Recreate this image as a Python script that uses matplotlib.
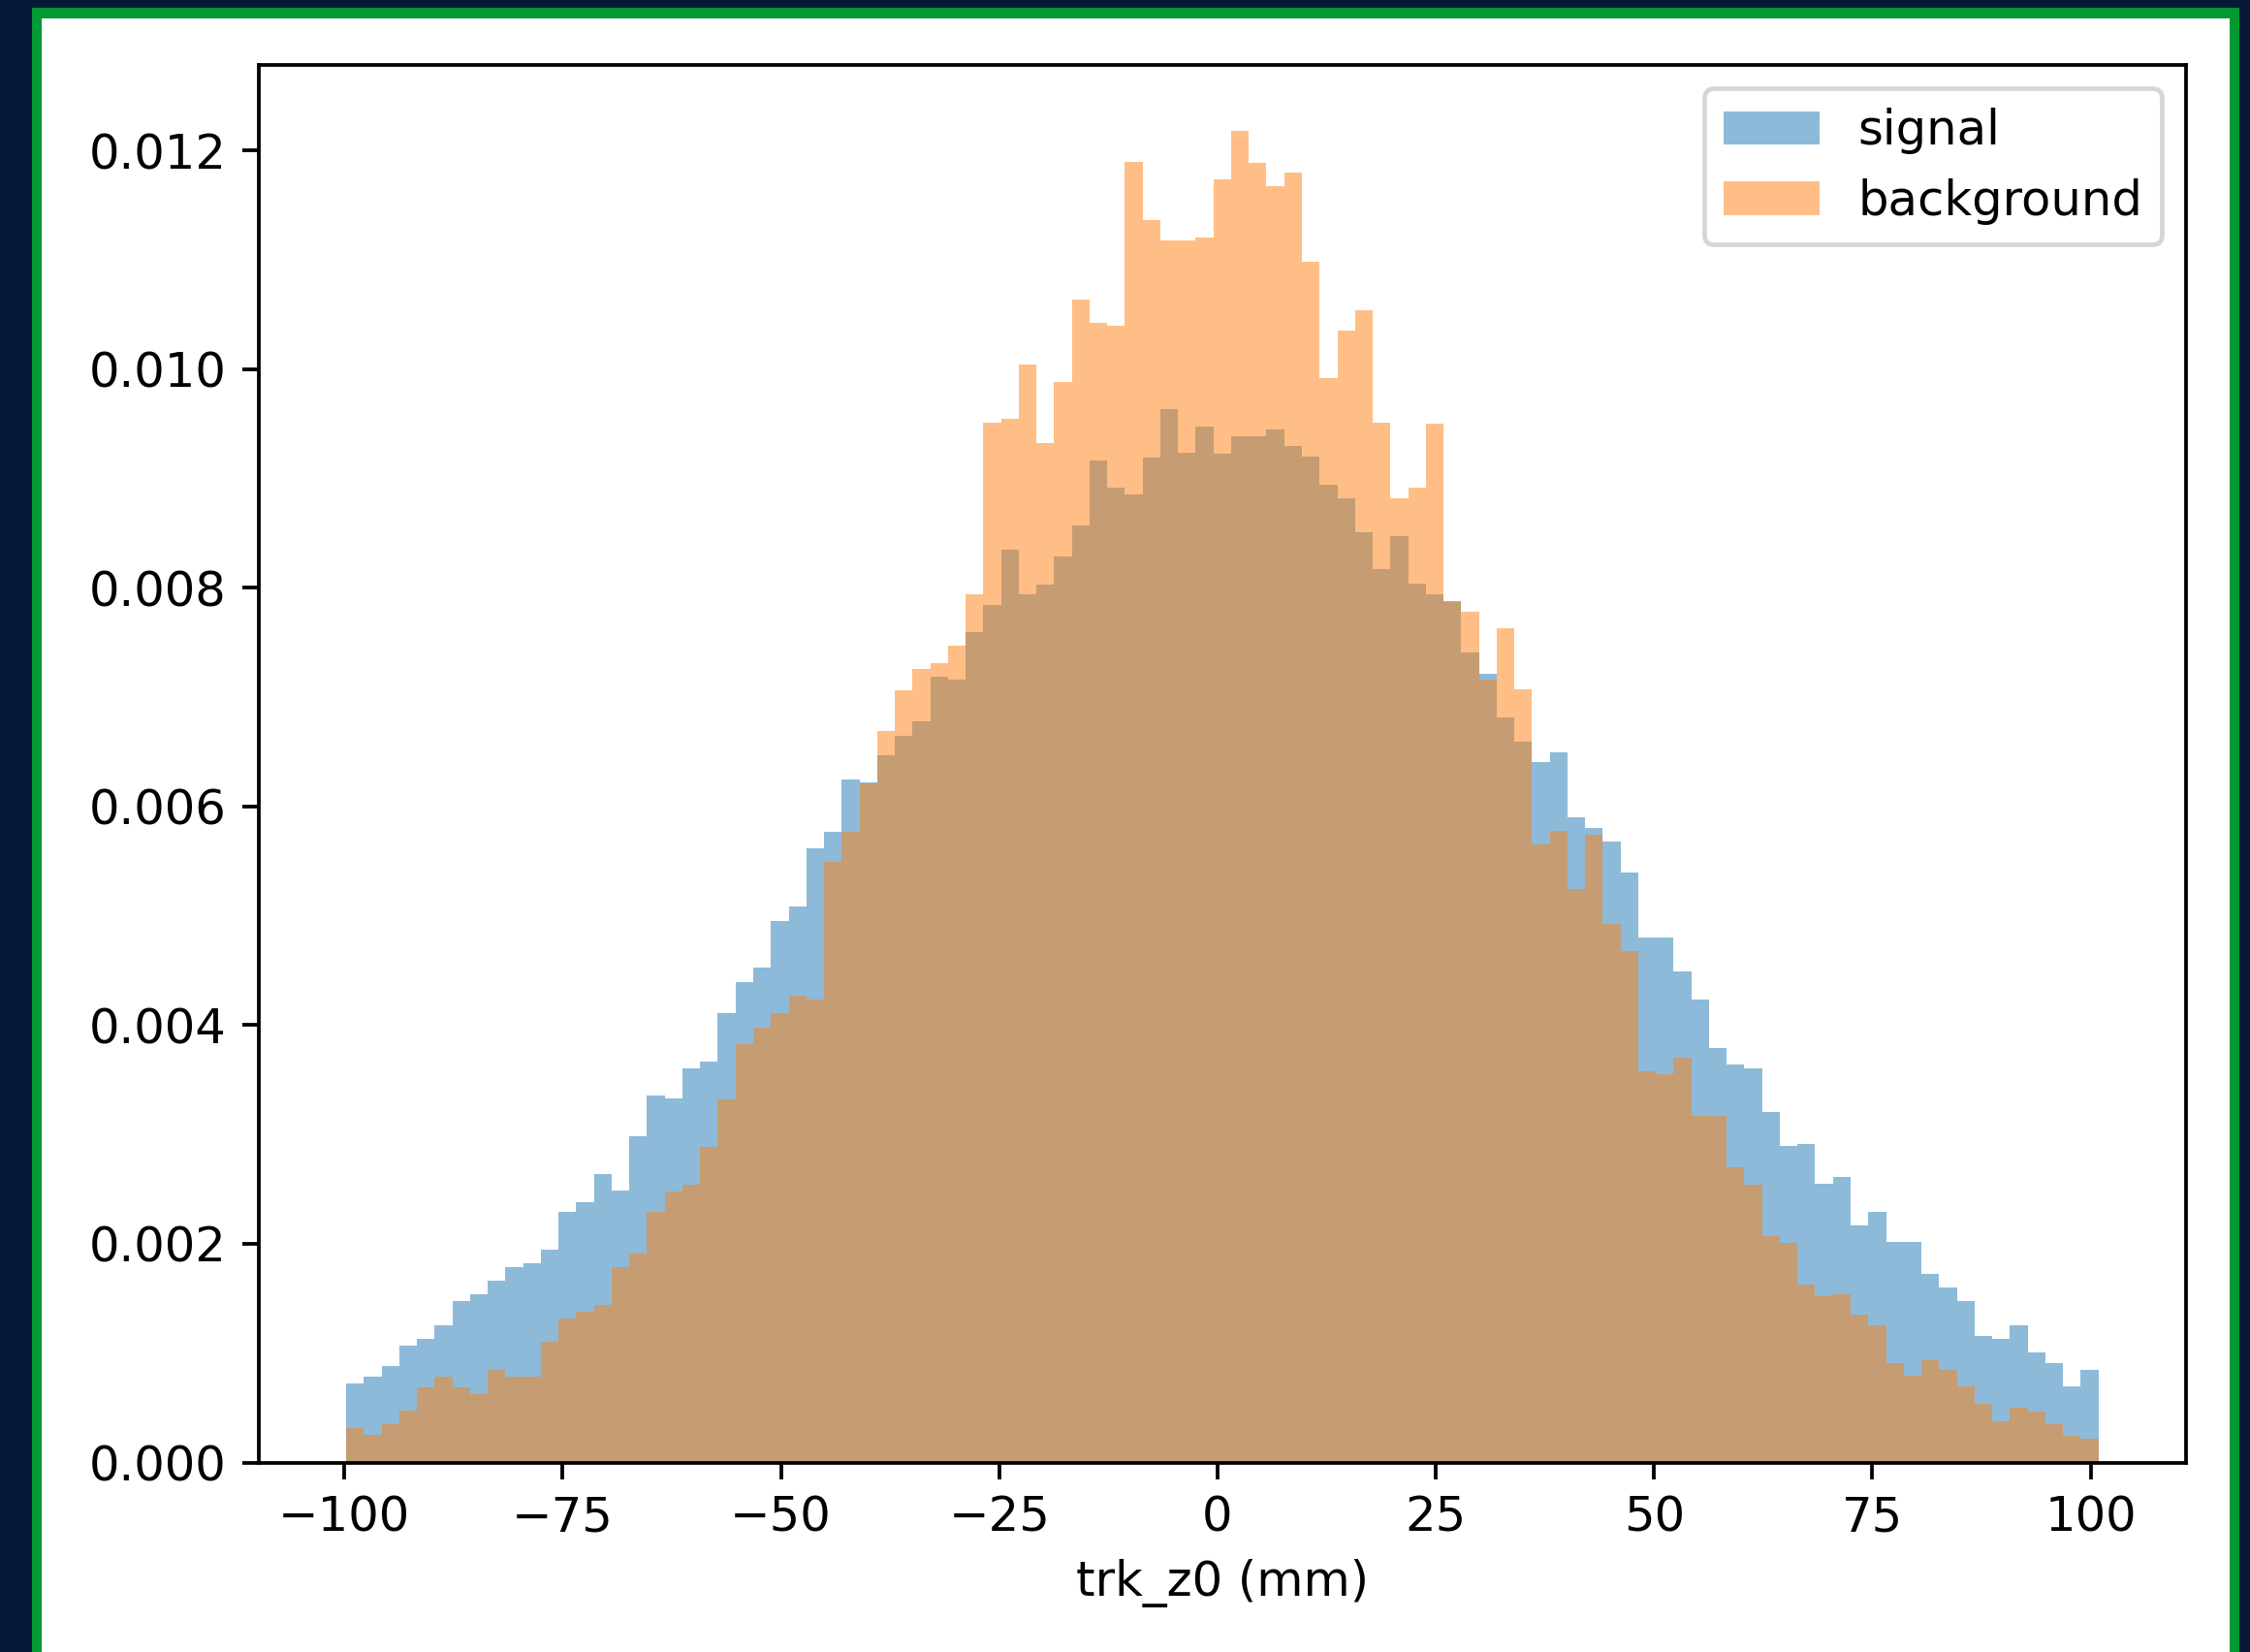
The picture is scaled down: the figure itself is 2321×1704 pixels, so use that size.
import numpy as np
import matplotlib
matplotlib.use("Agg")
import matplotlib.pyplot as plt
from matplotlib.patches import Rectangle

# Histogram bin range (99 bins) and densities (in units of 1e-3)
bin_lo = -99.8
bin_hi = 100.9
n_bins = 99

signal = [
    0.719, 0.784, 0.878, 1.070, 1.129, 1.256, 1.474, 1.536, 1.666, 1.787,
    1.823, 1.946, 2.289, 2.383, 2.637, 2.484, 2.983, 3.358, 3.328, 3.608,
    3.670, 4.113, 4.391, 4.523, 4.954, 5.084, 5.615, 5.772, 6.244, 6.220,
    6.466, 6.650, 6.780, 7.190, 7.161, 7.598, 7.844, 8.347, 7.944, 8.030,
    8.287, 8.566, 9.163, 8.920, 8.853, 9.193, 9.636, 9.237, 9.478, 9.230,
    9.386, 9.386, 9.447, 9.295, 9.198, 8.945, 8.818, 8.507, 8.168, 8.475,
    8.038, 7.940, 7.880, 7.409, 7.217, 6.811, 6.596, 6.403, 6.498, 5.905,
    5.806, 5.681, 5.396, 4.803, 4.803, 4.495, 4.234, 3.793, 3.641, 3.607,
    3.202, 2.895, 2.917, 2.552, 2.608, 2.171, 2.289, 2.015, 2.015, 1.722,
    1.601, 1.477, 1.161, 1.132, 1.256, 1.005, 0.908, 0.695, 0.843,
]

background = [
    0.312, 0.252, 0.347, 0.471, 0.689, 0.784, 0.689, 0.627, 0.843, 0.784,
    0.784, 1.100, 1.315, 1.380, 1.442, 1.787, 1.912, 2.289, 2.478, 2.543,
    2.885, 3.322, 3.824, 3.980, 4.110, 4.267, 4.237, 5.489, 5.772, 6.210,
    6.687, 7.062, 7.255, 7.312, 7.468, 7.937, 9.510, 9.547, 10.043, 9.323,
    9.882, 10.638, 10.422, 10.396, 11.895, 11.362, 11.175, 11.175, 11.208, 11.737,
    12.176, 11.890, 11.673, 11.797, 10.983, 9.917, 10.354, 10.542, 9.512, 8.818,
    8.916, 9.505, 7.870, 7.785, 7.163, 7.626, 7.068, 5.651, 5.776, 5.244,
    5.742, 4.929, 4.675, 3.580, 3.549, 3.702, 3.174, 3.174, 2.700, 2.540,
    2.068, 2.005, 1.630, 1.522, 1.536, 1.350, 1.256, 0.908, 0.790, 0.937,
    0.848, 0.695, 0.533, 0.379, 0.497, 0.468, 0.347, 0.247, 0.217,
]

series_labels = ["signal", "background"]
x_label = "trk_z0 (mm)"

plt.rcParams["font.size"] = 10.5

W, H, DPI = 2321, 1704, 340
fig = plt.figure(figsize=(W / DPI, H / DPI), dpi=DPI)
fig.patch.set_facecolor("#061a38")

# Screenshot frame: green line and white inner area
fig.add_artist(Rectangle((33 / W, 0), (2310 - 33) / W, (H - 8) / H,
                         transform=fig.transFigure, facecolor="#009933",
                         edgecolor="none", zorder=-20))
fig.add_artist(Rectangle((43 / W, 0), (2300 - 43) / W, (H - 19) / H,
                         transform=fig.transFigure, facecolor="white",
                         edgecolor="none", zorder=-19))

ax = fig.add_axes([266.7 / W, (H - 1508.5) / H,
                   (2255 - 266.7) / W, (1508.5 - 66.7) / H])

edges = np.linspace(bin_lo, bin_hi, n_bins + 1)
centers = 0.5 * (edges[:-1] + edges[1:])
ax.hist(centers, bins=edges, weights=np.array(signal) * 1e-3,
        alpha=0.5, label=series_labels[0])
ax.hist(centers, bins=edges, weights=np.array(background) * 1e-3,
        alpha=0.5, label=series_labels[1])

ax.set_xlabel(x_label)
ax.legend()

fig.savefig("out.png", dpi=DPI)
